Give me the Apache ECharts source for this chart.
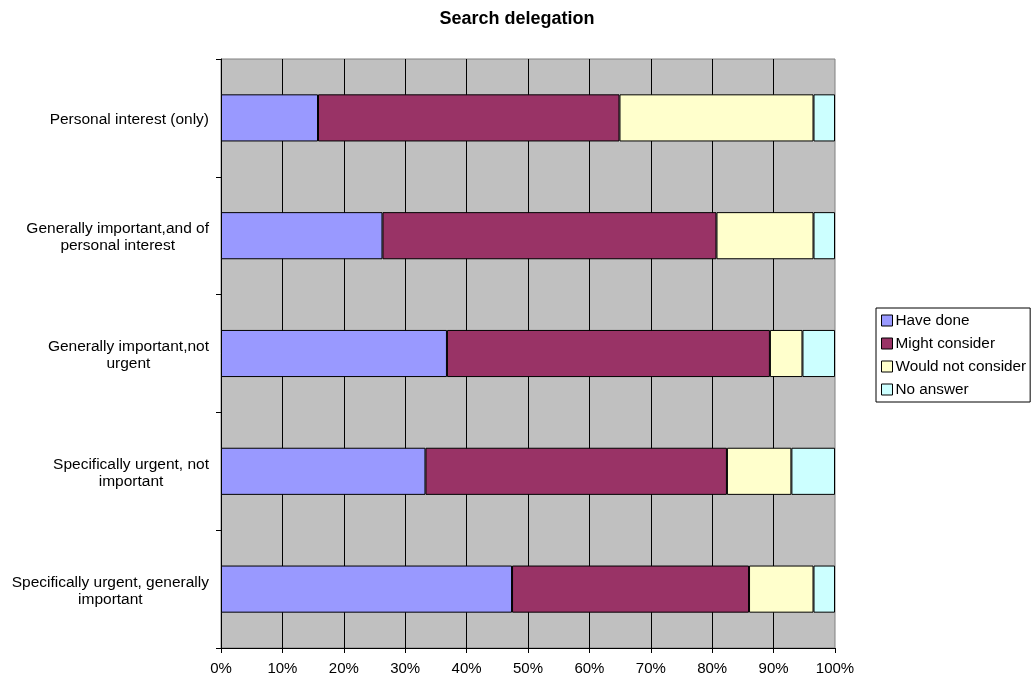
<!DOCTYPE html>
<html>
<head>
<meta charset="utf-8">
<script src="https://cdn.jsdelivr.net/npm/echarts@6/dist/echarts.min.js"></script>
<style>
  html, body { margin: 0; padding: 0; background: #fff; }
  #main { width: 1034px; height: 680px; }
</style>
</head>
<body>
<div id="main"></div>
<script>
// categories top to bottom
const categories = [
  'Personal interest (only)',
  'Generally important,and of\npersonal interest',
  'Generally important,not\nurgent',
  'Specifically urgent, not\nimportant',
  'Specifically urgent, generally\nimportant'
]
const seriesNames = ['Have done', 'Might consider', 'Would not consider', 'No answer']
const haveDone = [15.8, 26.3, 36.8, 33.3, 47.4]
const mightConsider = [49.1, 54.4, 52.6, 49.1, 38.6]
const wouldNotConsider = [31.6, 15.8, 5.3, 10.5, 10.5]
const noAnswer = [3.5, 3.5, 5.3, 7.1, 3.5]
const colors = ['#9999FF', '#993366', '#FFFFCC', '#CCFFFF']

const font = '"Liberation Sans", Arial, sans-serif'
const chart = echarts.init(document.getElementById('main'))

const makeSeries = (name, data) => ({
  name: name,
  type: 'bar',
  stack: 'total',
  barWidth: '40%',
  data: data,
  itemStyle: { borderColor: '#000', borderWidth: 1 }
})

chart.setOption({
  animation: false,
  color: colors,
  title: {
    text: 'Search delegation',
    left: 'center',
    top: 5,
    textStyle: { fontFamily: font, fontSize: 18, fontWeight: 'bold', color: '#000' }
  },
  legend: {
    orient: 'vertical',
    left: 876,
    top: 308,
    data: seriesNames,
    icon: 'rect',
    itemWidth: 11,
    itemHeight: 11,
    itemGap: 8,
    padding: [5, 4, 5, 5],
    borderColor: '#000',
    borderWidth: 1,
    textStyle: { fontFamily: font, fontSize: 15.3, color: '#000', padding: [0, 0, 0, -2] },
    itemStyle: { borderColor: '#000', borderWidth: 1 }
  },
  grid: {
    left: 221,
    right: 199,
    top: 59,
    bottom: 32,
    show: true,
    backgroundColor: '#C0C0C0',
    borderColor: '#808080',
    borderWidth: 1
  },
  xAxis: {
    type: 'value',
    min: 0,
    max: 100,
    interval: 10,
    axisLine: { show: true, lineStyle: { color: '#000', width: 1 } },
    axisTick: { show: true, length: 5, lineStyle: { color: '#000' } },
    axisLabel: {
      formatter: '{value}%',
      margin: 13,
      fontFamily: font,
      fontSize: 15,
      color: '#000'
    },
    splitLine: {
      show: true,
      showMinLine: false,
      showMaxLine: false,
      lineStyle: { color: '#000', width: 1 }
    }
  },
  yAxis: {
    type: 'category',
    inverse: true,
    data: categories,
    axisLine: { show: true, lineStyle: { color: '#000', width: 1 } },
    axisTick: { show: true, length: 5, lineStyle: { color: '#000' } },
    axisLabel: {
      margin: 12,
      align: 'right',
      padding: [4, 0, 0, 0],
      formatter: v => v.split('\n').map(s => '{c|' + s + '}').join('\n'),
      rich: {
        c: { align: 'center', fontFamily: font, fontSize: 15.5, lineHeight: 17, color: '#000' }
      }
    },
    splitLine: { show: false }
  },
  series: [
    makeSeries(seriesNames[0], haveDone),
    makeSeries(seriesNames[1], mightConsider),
    makeSeries(seriesNames[2], wouldNotConsider),
    makeSeries(seriesNames[3], noAnswer)
  ]
})
</script>
</body>
</html>
